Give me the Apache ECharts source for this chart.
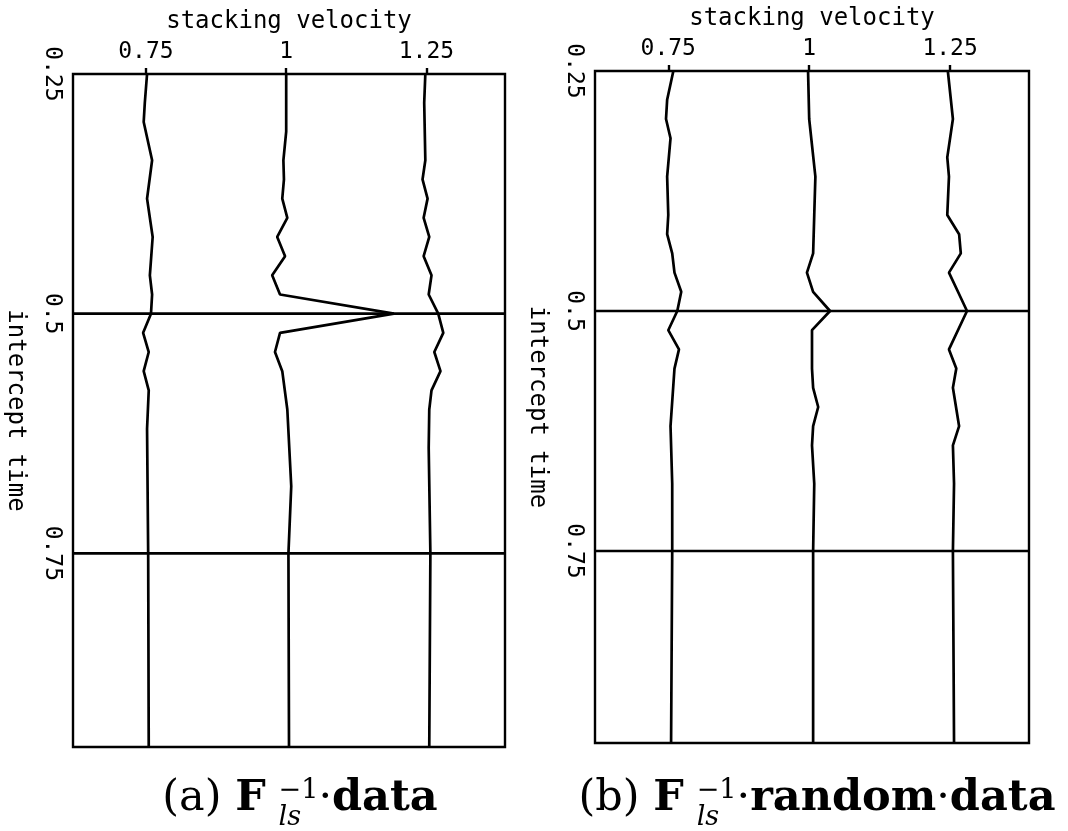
<!DOCTYPE html>
<html><head><meta charset="utf-8">
<script src="https://cdn.jsdelivr.net/npm/echarts@6/dist/echarts.min.js"></script>
<style>html,body{margin:0;padding:0;background:#fff}#c{width:1068px;height:831px}</style>
</head><body><div id="c"></div>
<script>
// ---- data ----
const velTicks = [0.75, 1, 1.25];          // stacking velocity tick labels
const timeTicks = [0.25, 0.5, 0.75];       // intercept time tick labels
const velRange = [0.62, 1.39];
const timeRangeA = [0.25, 0.952];
const timeRangeB = [0.25, 0.95];
const eventTimes = [0.5, 0.75];            // horizontal events in both panels

// panel (a) traces: [time, velocity]
const a075 = [[0.25,0.752],[0.28,0.748],[0.30,0.746],[0.34,0.761],[0.38,0.752],[0.42,0.762],[0.46,0.757],[0.48,0.761],[0.50,0.759],[0.52,0.745],[0.54,0.755],[0.56,0.746],[0.58,0.755],[0.62,0.752],[0.75,0.754],[0.952,0.755]];
const a100 = [[0.25,1.000],[0.31,1.000],[0.34,0.995],[0.36,0.996],[0.38,0.993],[0.40,1.002],[0.42,0.984],[0.44,0.998],[0.46,0.975],[0.48,0.989],[0.50,1.192],[0.52,0.989],[0.54,0.980],[0.56,0.993],[0.60,1.002],[0.68,1.009],[0.75,1.004],[0.952,1.005]];
const a125 = [[0.25,1.248],[0.28,1.246],[0.34,1.248],[0.36,1.243],[0.38,1.252],[0.40,1.245],[0.42,1.255],[0.44,1.245],[0.46,1.259],[0.48,1.254],[0.50,1.271],[0.52,1.280],[0.54,1.264],[0.56,1.275],[0.58,1.259],[0.60,1.255],[0.64,1.254],[0.75,1.257],[0.952,1.255]];

// panel (b) traces: [time, velocity]
const b075 = [[0.25,0.759],[0.28,0.748],[0.30,0.746],[0.32,0.754],[0.36,0.748],[0.40,0.750],[0.42,0.748],[0.44,0.757],[0.46,0.761],[0.48,0.773],[0.50,0.766],[0.52,0.750],[0.54,0.769],[0.56,0.761],[0.62,0.754],[0.68,0.757],[0.75,0.757],[0.95,0.755]];
const b100 = [[0.25,0.998],[0.30,1.000],[0.36,1.011],[0.40,1.009],[0.44,1.007],[0.46,0.996],[0.48,1.007],[0.50,1.037],[0.52,1.005],[0.56,1.005],[0.58,1.007],[0.60,1.016],[0.62,1.007],[0.64,1.005],[0.68,1.009],[0.75,1.007],[0.95,1.007]];
const b125 = [[0.25,1.246],[0.30,1.255],[0.34,1.245],[0.36,1.248],[0.40,1.245],[0.42,1.266],[0.44,1.269],[0.46,1.248],[0.48,1.264],[0.50,1.280],[0.54,1.248],[0.56,1.261],[0.58,1.255],[0.62,1.266],[0.64,1.255],[0.68,1.257],[0.75,1.255],[0.95,1.257]];

const captionA = {label: '(a)', tail: ['data']};
const captionB = {label: '(b)', tail: ['random', 'data']};

// ---- chart ----
const chart = echarts.init(document.getElementById('c'), null, {renderer: 'canvas'});
const FONT = 'DejaVu Sans Mono';
const grids = [
  {left: 73, top: 74, width: 432, height: 673},
  {left: 595, top: 71, width: 434, height: 672}
];
const timeRanges = [timeRangeA, timeRangeB];
const traces = [[a075, a100, a125], [b075, b100, b125]];

const lineStyle = {color: '#000', width: 2.7};
const series = [];
traces.forEach((set, gi) => {
  set.forEach(tr => series.push({
    type: 'line', xAxisIndex: gi, yAxisIndex: gi, showSymbol: false, symbol: 'none',
    silent: true, animation: false, clip: true, lineStyle,
    data: tr.map(p => [p[1], p[0]])
  }));
  eventTimes.forEach(t => series.push({
    type: 'line', xAxisIndex: gi, yAxisIndex: gi, showSymbol: false, symbol: 'none',
    silent: true, animation: false, lineStyle,
    data: [[velRange[0], t], [velRange[1], t]]
  }));
});

const labelStyle = {fontFamily: FONT, fontSize: 23, color: '#000'};
const nameStyle = {fontFamily: FONT, fontSize: 24, color: '#000'};

// caption built from text pieces (sub/superscript stacked)
function measure(str, font) {
  const c = measure.c || (measure.c = document.createElement('canvas').getContext('2d'));
  c.font = font; return c.measureText(str).width;
}
function caption(cx, cap) {
  const M = 43, S = 27, FAM = '"DejaVu Serif"';
  const fN = M + 'px ' + FAM, fB = 'bold ' + M + 'px ' + FAM;
  const fS = S + 'px ' + FAM, fSI = 'italic ' + S + 'px ' + FAM;
  const base = 814, supBase = 800, subBase = 827;
  const pieces = [];
  pieces.push({t: cap.label + ' ', f: fN, b: base, s: M});
  pieces.push({t: 'F', f: fB, b: base, s: M, gapAfter: 0.3 * M});
  pieces.push({stack: [{t: '\u22121', f: fS, b: supBase, s: S}, {t: 'ls', f: fSI, b: subBase, s: S}]});
  cap.tail.forEach(w => {
    pieces.push({t: '\u00b7', f: fN, b: base, s: M});
    pieces.push({t: w, f: fB, b: base, s: M});
  });
  let total = 0;
  pieces.forEach(p => {
    if (p.stack) p.w = Math.max(...p.stack.map(q => measure(q.t, q.f)));
    else p.w = measure(p.t, p.f) + (p.gapAfter || 0);
    total += p.w;
  });
  let x = cx - total / 2;
  const els = [];
  const mk = (q, x0) => ({type: 'text', x: x0, y: q.b - 0.345 * q.s, silent: true,
    style: {text: q.t, font: q.f, fill: '#000', align: 'left', verticalAlign: 'middle',
            textAlign: 'left', textVerticalAlign: 'middle'}});
  pieces.forEach(p => {
    if (p.stack) p.stack.forEach(q => els.push(mk(q, x)));
    else els.push(mk(p, x));
    x += p.w;
  });
  return els;
}

const option = {
  animation: false,
  backgroundColor: '#fff',
  grid: grids.map(g => Object.assign({show: true, borderColor: '#000', borderWidth: 2.4, backgroundColor: 'transparent', containLabel: false}, g)),
  xAxis: grids.map((g, i) => ({
    gridIndex: i, type: 'value', position: 'top', min: velRange[0], max: velRange[1],
    name: 'stacking velocity', nameLocation: 'middle', nameGap: 40,
    nameTextStyle: nameStyle,
    axisLine: {show: false}, splitLine: {show: false},
    axisTick: {show: true, inside: false, length: 6, customValues: velTicks, lineStyle: {color: '#000', width: 2.4}},
    axisLabel: Object.assign({customValues: velTicks, margin: 10, showMinLabel: true, showMaxLabel: true}, labelStyle)
  })),
  yAxis: grids.map((g, i) => ({
    gridIndex: i, type: 'value', inverse: true, min: timeRanges[i][0], max: timeRanges[i][1],
    name: 'intercept time', nameLocation: 'middle', nameRotate: -90, nameGap: 46,
    nameTextStyle: nameStyle,
    axisLine: {show: false}, splitLine: {show: false}, axisTick: {show: false},
    axisLabel: Object.assign({customValues: timeTicks, rotate: -90, margin: 10, showMinLabel: true, showMaxLabel: true}, labelStyle)
  })),
  series,
  graphic: caption(300, captionA).concat(caption(817, captionB))
};
chart.setOption(option);
</script></body></html>
